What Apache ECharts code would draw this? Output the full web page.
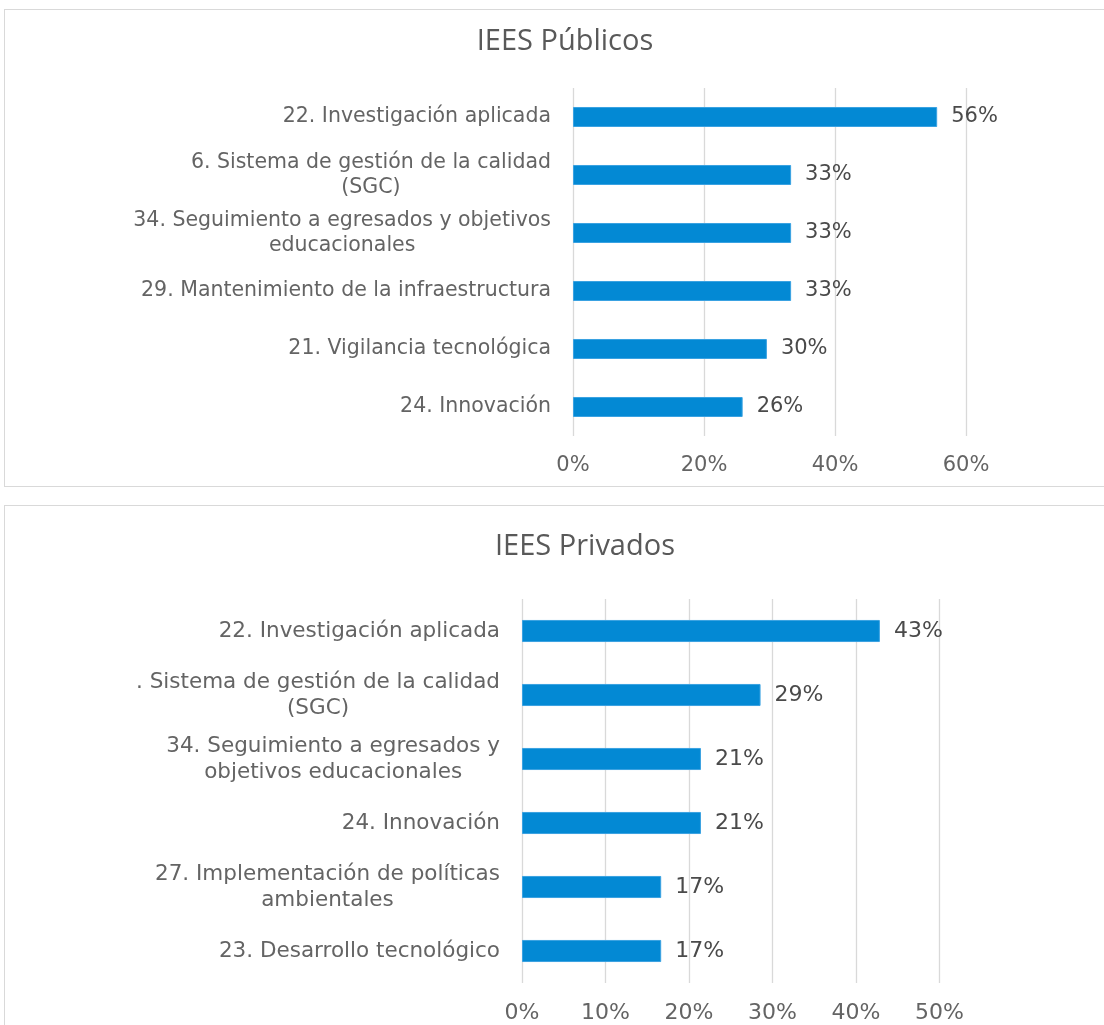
<!DOCTYPE html>
<html>
<head>
<meta charset="utf-8">
<script src="https://cdn.jsdelivr.net/npm/echarts@6/dist/echarts.min.js"></script>
<style>
html,body{margin:0;padding:0;background:#fff;overflow:hidden;width:1104px;height:1025px;}
.box{position:absolute;left:4px;width:1140px;border:1px solid #d9d9d9;box-sizing:border-box;background:#fff;}
#c1{top:9px;height:478px;}
#c2{top:505px;height:560px;}
</style>
</head>
<body>
<div id="c1" class="box"></div>
<div id="c2" class="box"></div>
<script>
// ---- Data ----
const titlePub = 'IEES Públicos';
const catsPub = [
  '22. Investigación aplicada',
  '6. Sistema de gestión de la calidad\n(SGC)',
  '34. Seguimiento a egresados y objetivos\neducacionales',
  '29. Mantenimiento de la infraestructura',
  '21. Vigilancia tecnológica',
  '24. Innovación'
];
const valsPub = [0.556, 0.333, 0.333, 0.333, 0.296, 0.259];
const ticksPub = [0, 0.2, 0.4, 0.6];

const titlePriv = 'IEES Privados';
const catsPriv = [
  '22. Investigación aplicada',
  '. Sistema de gestión de la calidad\n(SGC)',
  '34. Seguimiento a egresados y\nobjetivos educacionales',
  '24. Innovación',
  '27. Implementación de políticas\nambientales',
  '23. Desarrollo tecnológico'
];
const valsPriv = [0.4286, 0.2857, 0.2143, 0.2143, 0.1667, 0.1667];
const ticksPriv = [0, 0.1, 0.2, 0.3, 0.4, 0.5];

const LABEL_FONT = '"DejaVu Sans", sans-serif';
const TITLE_FONT = '"Open Sans", "Noto Sans", sans-serif';
const TXT = '#646464';

function buildOption(title, cats, vals, ticks, g) {
  const step = ticks[1] - ticks[0];
  return {
    animation: false,
    title: {
      text: title,
      left: g.titleX, top: g.titleY,
      textAlign: 'center',
      textStyle: {fontFamily: TITLE_FONT, fontSize: 29, fontWeight: 'normal', color: '#595959'}
    },
    grid: {left: g.left, top: g.top, width: g.width, height: g.height, containLabel: false},
    xAxis: {
      type: 'value',
      min: ticks[0], max: ticks[ticks.length - 1], interval: step,
      axisLine: {show: false}, axisTick: {show: false},
      splitLine: {show: true, lineStyle: {color: '#d9d9d9', width: 1.3}},
      axisLabel: {
        margin: g.xLabelMargin,
        fontFamily: LABEL_FONT, fontSize: g.fsTick, color: TXT,
        formatter: v => Math.round(v * 100) + '%'
      }
    },
    yAxis: {
      type: 'category', inverse: true, data: cats,
      axisLine: {show: false}, axisTick: {show: false},
      axisLabel: {
        margin: 22,
        fontFamily: LABEL_FONT, fontSize: g.fs, color: TXT, lineHeight: g.lh,
        formatter: v => v.split('\n').map(s => '{c|' + s + '}').join('\n'),
        rich: {c: {align: 'center', fontFamily: LABEL_FONT, fontSize: g.fs, color: TXT, lineHeight: g.lh}}
      }
    },
    series: [{
      type: 'bar', data: vals,
      barCategoryGap: '65.5%',
      itemStyle: {color: '#0389d4', borderColor: '#3aa2e2', borderWidth: 1},
      label: {
        show: true, position: 'right', distance: 14,
        fontFamily: LABEL_FONT, fontSize: g.fsVal, color: '#4a4a4a',
        formatter: p => Math.round(p.value * 100) + '%'
      }
    }]
  };
}

const ch1 = echarts.init(document.getElementById('c1'));
ch1.setOption(buildOption(titlePub, catsPub, valsPub, ticksPub,
  {left: 568, top: 78, width: 393, height: 348, titleX: 555, titleY: 12, fs: 20.5, fsTick: 21, fsVal: 21, lh: 25, xLabelMargin: 19}));

const ch2 = echarts.init(document.getElementById('c2'));
ch2.setOption(buildOption(titlePriv, catsPriv, valsPriv, ticksPriv,
  {left: 517, top: 93, width: 417.5, height: 384, titleX: 575, titleY: 21, fs: 21.5, fsTick: 22, fsVal: 22, lh: 26, xLabelMargin: 19}));
</script>
</body>
</html>
